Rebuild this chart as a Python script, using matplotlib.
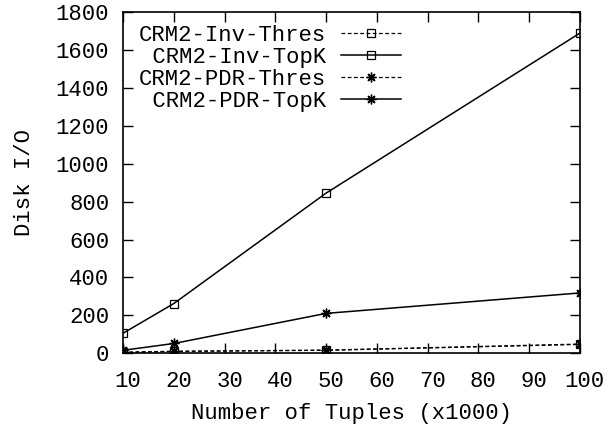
import matplotlib
matplotlib.use('Agg')
import matplotlib.pyplot as plt
import matplotlib.transforms as mtransforms

# datos
tuples = [10, 20, 50, 100]
inv_thres = [4, 9, 15, 46]
inv_topk = [105, 262, 845, 1690]
pdr_thres = [5, 10, 16, 48]
pdr_topk = [15, 51, 210, 318]
labels = ['CRM2-Inv-Thres', 'CRM2-Inv-TopK', 'CRM2-PDR-Thres', 'CRM2-PDR-TopK']

plt.rcParams['font.family'] = ['Liberation Mono', 'DejaVu Sans Mono']
plt.rcParams['font.size'] = 16

fig = plt.figure(figsize=(6.09, 4.26), dpi=100)
ax = fig.add_axes([0.202, 0.171, 0.750, 0.800])

ast = (8, 2, 0)
dash = (0, (3, 2))
width = max(len(l) for l in labels)
lab = [l.rjust(width) for l in labels]

ax.plot(tuples, inv_thres, color='black', lw=0.9, ls=dash, marker='s', ms=6,
        mfc='none', mew=0.9, label=lab[0])
ax.plot(tuples, inv_topk, color='black', lw=1.1, marker='s', ms=6,
        mfc='none', mew=0.9, label=lab[1])
ax.plot(tuples, pdr_thres, color='black', lw=0.9, ls=dash, marker=ast, ms=7,
        mew=1.0, label=lab[2])
ax.plot(tuples, pdr_topk, color='black', lw=1.1, marker=ast, ms=7,
        mew=1.0, label=lab[3])

ax.set_xlim(10, 100)
ax.set_ylim(0, 1800)
ax.set_xticks(range(10, 101, 10))
ax.set_yticks(range(0, 1801, 200))
ax.tick_params(direction='in', length=7, width=1, top=True, right=True)
ax.tick_params(axis='x', pad=13)
ax.tick_params(axis='y', pad=10)
for s in ax.spines.values():
    s.set_linewidth(1.2)

# desplazar un poco las etiquetas del eje x (como gnuplot)
off = mtransforms.ScaledTranslation(5 / 100, 0, fig.dpi_scale_trans)
for t in ax.get_xticklabels():
    t.set_transform(t.get_transform() + off)

ax.set_xlabel('Number of Tuples (x1000)', labelpad=8)
ax.set_ylabel('Disk I/O', labelpad=15)

leg = ax.legend(loc='upper left', bbox_to_anchor=(0.0, 1.01), frameon=False,
                markerfirst=False, handlelength=2.7, handletextpad=0.7,
                labelspacing=0.05, borderaxespad=0.3, fontsize=16)

plt.savefig('out.png', dpi=100)
